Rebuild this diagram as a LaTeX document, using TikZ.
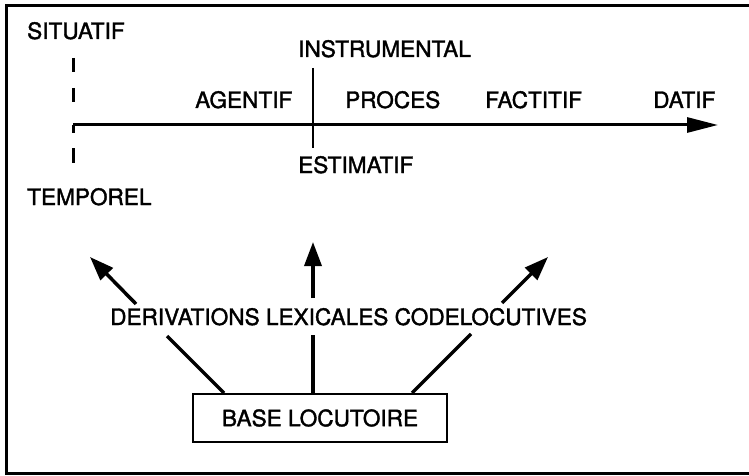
\documentclass[tikz,border=0pt]{standalone}
\usepackage{fontspec}
\setmainfont{TeX Gyre Heros}[FakeBold=1.6]
\usetikzlibrary{arrows.meta}
\tikzset{
  lbl/.style={inner sep=0pt, anchor=base west, font=\fontsize{22.6}{26}\selectfont},
  thickline/.style={line width=3pt},
  bigarrow/.style={line width=3.5pt, -{Triangle[length=24pt,width=17pt]}},
  plainseg/.style={line width=3.5pt}
}
\begin{document}
\begin{tikzpicture}[x=1pt,y=-1pt]
\useasboundingbox (0,0) rectangle (749,476);
% frame (open on the right)
\draw[line width=3pt] (749,6) -- (6,6) -- (6,473) -- (749,473);

% labels
\node[lbl] (sit) at (27,39) {SITUATIF};
\node[lbl] (ins) at (298,57) {INSTRUMENTAL};
\node[lbl] (age) at (195,108) {AGENTIF};
\node[lbl] (pro) at (345,108) {PROCES};
\node[lbl] (fac) at (485,108) {FACTITIF};
\node[lbl] (dat) at (653,108) {DATIF};
\node[lbl] (est) at (298,173) {ESTIMATIF};
\node[lbl] (tem) at (27,205) {TEMPOREL};
\node[lbl] (der) at (110,325) {DERIVATIONS LEXICALES CODELOCUTIVES};

% axis
\coordinate (ax0) at (73,125);
\coordinate (ax1) at (718,125);
\draw[thickline, -{Triangle[length=31pt,width=15pt]}] (ax0) -- (ax1);
% dashed vertical
\coordinate (d0) at (73,58);
\coordinate (d1) at (73,163);
\draw[thickline, dash pattern=on 14pt off 16pt on 14pt off 23pt on 8pt off 15pt on 15pt off 10pt] (d0) -- (d1);
% solid vertical
\coordinate (v0) at (313,68);
\coordinate (v1) at (313,148);
\draw[line width=2.5pt] (v0) -- (v1);

% base box
\node[draw, line width=2.5pt, minimum width=254pt, minimum height=48pt, inner sep=0pt,
      font=\fontsize{22.6}{26}\selectfont] (box) at (320,418) {BASE LOCUTOIRE};

% derivation arrows
\coordinate (lA) at (224,393);
\coordinate (lB) at (167,336);
\coordinate (lC) at (136,304);
\coordinate (lT) at (90,257);
\coordinate (mA) at (313,393);
\coordinate (mB) at (313,335);
\coordinate (mC) at (313,298);
\coordinate (mT) at (313,242);
\coordinate (rA) at (412,393);
\coordinate (rB) at (471,334);
\coordinate (rC) at (502,303);
\coordinate (rT) at (548,257);
\draw[plainseg] (lA) -- (lB);
\draw[plainseg] (mA) -- (mB);
\draw[plainseg] (rA) -- (rB);
\draw[bigarrow] (lC) -- (lT);
\draw[bigarrow] (mC) -- (mT);
\draw[bigarrow] (rC) -- (rT);
\end{tikzpicture}
\end{document}
